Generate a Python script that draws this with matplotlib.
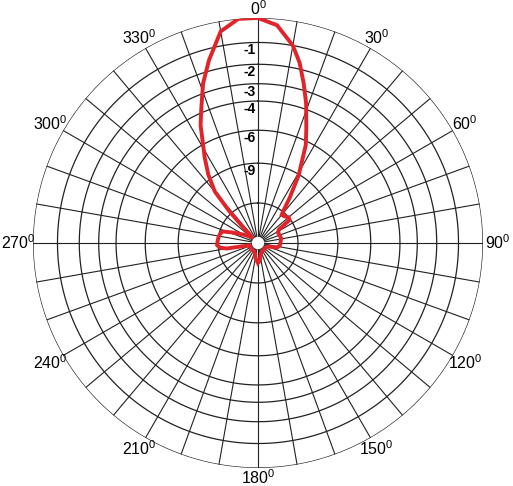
import numpy as np
import matplotlib
matplotlib.use('Agg')
import matplotlib.pyplot as plt

plt.rcParams['font.family'] = ['Liberation Sans', 'DejaVu Sans']

# radiation pattern, gain in dB vs azimuth (deg, clockwise from top)
angles = [0, 5, 10, 13, 16, 19, 23, 26, 31, 35, 38, 40,
          44, 50, 54, 57, 62, 70, 78, 90, 96, 104, 108,
          120, 140, 160, 170, 175, 180, 185, 190, 195,
          210, 230, 250, 255, 260, 263, 267, 272, 277, 283, 288,
          292, 297, 305, 312, 316, 317, 318, 320, 324, 328, 334,
          337, 341, 345, 350, 355]
gain_db = [0, -0.25, -1.0, -1.7, -2.65, -3.65, -5.2, -6.3, -9.1, -12.2, -14.6, -15.7,
           -15.6, -15.0, -15.2, -19, -20, -19.8, -19.6, -20, -20.2, -21.2, -26,
           -28, -28, -27, -24, -22, -21, -22.5, -23.5, -26,
           -28, -28, -28, -28, -17, -15.4, -14.8, -14.9, -15, -15.2, -15.6,
           -18, -21, -25, -28, -26, -19, -14.3, -10.5, -8.5, -7.0, -4.7,
           -3.8, -2.5, -1.5, -0.4, 0]

ring_db = [0, -1, -2, -3, -4, -6, -9, -15]
ring_labels = ['-1', '-2', '-3', '-4', '-6', '-9']
angle_labels = [0, 30, 60, 90, 120, 150, 180, 210, 240, 270, 300, 330]

fig = plt.figure(figsize=(5.13, 4.86), dpi=100)
ax = fig.add_axes([33 / 513, 18 / 486, 450 / 513, 450 / 486], projection='polar')
ax.set_theta_zero_location('N')
ax.set_theta_direction(-1)
ax.set_ylim(0, 1)
ax.grid(False)
ax.set_xticks([])
ax.set_yticks([])
ax.spines['polar'].set_visible(False)

hole = 0.024
full = np.linspace(0, 2 * np.pi, 721)
for d in ring_db:
    ax.plot(full, np.full_like(full, 10 ** (d / 20)), color='#222222', lw=0.9, zorder=1)
for a in range(0, 360, 10):
    t = np.radians(a)
    ax.plot([t, t], [hole, 1], color='#222222', lw=0.8, zorder=1)

th = np.radians(angles + [angles[0]])
r = 10 ** (np.array(gain_db + [gain_db[0]]) / 20)
ax.plot(th, r, color='#e0242a', lw=2.8, zorder=3, solid_joinstyle='miter')

ax.plot(full, np.full_like(full, hole), color='#555555', lw=0.8, zorder=4)
ax.fill(full, np.full_like(full, hole), color='white', zorder=4)

for lbl in ring_labels:
    rr = 10 ** (float(lbl) / 20)
    ax.annotate(lbl, xy=(0, rr), xytext=(-8, -8), textcoords='offset pixels',
                ha='center', va='center', fontsize=10, fontweight='bold', zorder=5)

for a in angle_labels:
    t = np.radians(a)
    ax.text(t, 1.042 + 0.025 * abs(np.sin(t)), r'$\mathregular{%d^0}$' % a,
            ha='center', va='center', fontsize=11.5, clip_on=False)

fig.savefig('out.png', dpi=100)
